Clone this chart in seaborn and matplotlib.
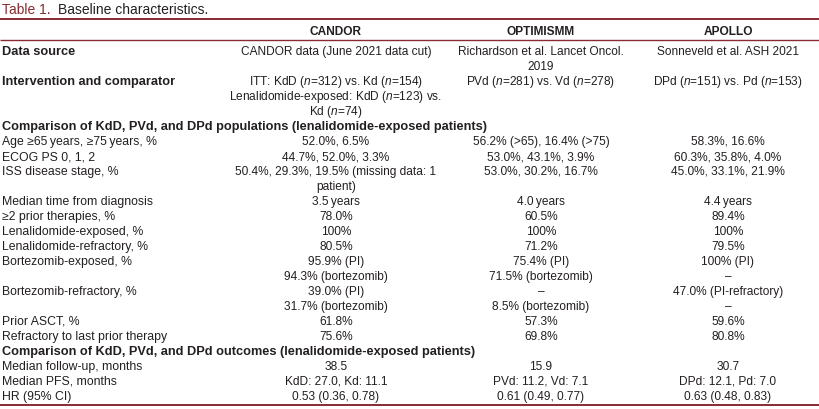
import matplotlib
matplotlib.use('Agg')
import matplotlib.pyplot as plt
from matplotlib import font_manager
import seaborn as sns

# table content
title_num = 'Table 1.'
title_text = 'Baseline characteristics.'
trials = ['CANDOR', 'OPTIMISMM', 'APOLLO']

# (label, [CANDOR, OPTIMISMM, APOLLO], kind)  kind: 'bold' label, 'section' spanning header, 'row' normal
rows = [
    ('Data source', ['CANDOR data (June 2021 data cut)',
                     'Richardson et al. Lancet Oncol.\n2019',
                     'Sonneveld et al. ASH 2021'], 'bold'),
    ('Intervention and comparator', ['ITT: KdD ($n$=312) vs. Kd ($n$=154)\nLenalidomide-exposed: KdD ($n$=123) vs.\nKd ($n$=74)',
                                     'PVd ($n$=281) vs. Vd ($n$=278)',
                                     'DPd ($n$=151) vs. Pd ($n$=153)'], 'bold'),
    ('Comparison of KdD, PVd, and DPd populations (lenalidomide-exposed patients)', None, 'section'),
    ('Age \u226565\u2009years, \u226575\u2009years, %', ['52.0%, 6.5%', '56.2% (>65), 16.4% (>75)', '58.3%, 16.6%'], 'row'),
    ('ECOG PS 0, 1, 2', ['44.7%, 52.0%, 3.3%', '53.0%, 43.1%, 3.9%', '60.3%, 35.8%, 4.0%'], 'row'),
    ('ISS disease stage, %', ['50.4%, 29.3%, 19.5% (missing data: 1\npatient)', '53.0%, 30.2%, 16.7%', '45.0%, 33.1%, 21.9%'], 'row'),
    ('Median time from diagnosis', ['3.5\u2009years', '4.0\u2009years', '4.4\u2009years'], 'row'),
    ('\u22652 prior therapies, %', ['78.0%', '60.5%', '89.4%'], 'row'),
    ('Lenalidomide-exposed, %', ['100%', '100%', '100%'], 'row'),
    ('Lenalidomide-refractory, %', ['80.5%', '71.2%', '79.5%'], 'row'),
    ('Bortezomib-exposed, %', ['95.9% (PI)\n94.3% (bortezomib)', '75.4% (PI)\n71.5% (bortezomib)', '100% (PI)\n\u2013'], 'row'),
    ('Bortezomib-refractory, %', ['39.0% (PI)\n31.7% (bortezomib)', '\u2013\n8.5% (bortezomib)', '47.0% (PI-refractory)\n\u2013'], 'row'),
    ('Prior ASCT, %', ['61.8%', '57.3%', '59.6%'], 'row'),
    ('Refractory to last prior therapy', ['75.6%', '69.8%', '80.8%'], 'row'),
    ('Comparison of KdD, PVd, and DPd outcomes (lenalidomide-exposed patients)', None, 'section'),
    ('Median follow-up, months', ['38.5', '15.9', '30.7'], 'row'),
    ('Median PFS, months', ['KdD: 27.0, Kd: 11.1', 'PVd: 11.2, Vd: 7.1', 'DPd: 12.1, Pd: 7.0'], 'row'),
    ('HR (95% CI)', ['0.53 (0.36, 0.78)', '0.61 (0.49, 0.77)', '0.63 (0.48, 0.83)'], 'row'),
]

sns.set_theme(style='white')
names = {f.name for f in font_manager.fontManager.ttflist}
main_font = 'Liberation Sans Narrow' if 'Liberation Sans Narrow' in names else 'Liberation Sans'
plt.rcParams['font.family'] = [main_font, 'DejaVu Sans']
plt.rcParams['mathtext.fontset'] = 'custom'
plt.rcParams['mathtext.it'] = main_font + ':italic'
plt.rcParams['mathtext.rm'] = main_font

maroon = '#8a2a32'
ink = '#231f20'
fs = 8.6
fs_label = 8.8
fs_bold = 9.2

fig = plt.figure(figsize=(8.2, 4.09), dpi=100)
ax = fig.add_axes([0, 0, 1, 1])
ax.set_xlim(0, 820)
ax.set_ylim(409, 0)
ax.axis('off')

# title
t1 = ax.text(2, 14, title_num, color=maroon, fontsize=10, va='baseline', ha='left')
fig.canvas.draw()
bb = t1.get_window_extent().transformed(ax.transData.inverted())
ax.text(bb.x1 + 7, 14, title_text, color=ink, fontsize=10, va='baseline', ha='left')

# rules
ax.plot([0, 820], [19, 19], color=maroon, lw=1.4, solid_capstyle='butt')
ax.plot([0, 820], [40, 40], color=maroon, lw=1.0, solid_capstyle='butt')
ax.plot([0, 820], [405, 405], color=maroon, lw=1.4, solid_capstyle='butt')

col_x = [336, 541, 728]
base = 4  # baseline offset from the line centre
for x, name in zip(col_x, trials):
    ax.text(x, 31 + base, name, fontsize=fs, fontweight='bold', ha='center', va='baseline', color=ink)

line_h = 15
y0 = 51
line = 0
for label, cells, kind in rows:
    y = y0 + line * line_h + base
    if kind in ('bold', 'section'):
        ax.text(2, y, label, fontsize=fs_bold, fontweight='bold', ha='left', va='baseline', color=ink)
    else:
        ax.text(2, y, label, fontsize=fs_label, ha='left', va='baseline', color=ink)
    n_lines = 1
    if cells is not None:
        for x, cell in zip(col_x, cells):
            parts = cell.split('\n')
            n_lines = max(n_lines, len(parts))
            for k, part in enumerate(parts):
                ax.text(x, y + k * line_h, part, fontsize=fs, ha='center', va='baseline', color=ink)
    line += n_lines

fig.savefig('out.png', dpi=100)
